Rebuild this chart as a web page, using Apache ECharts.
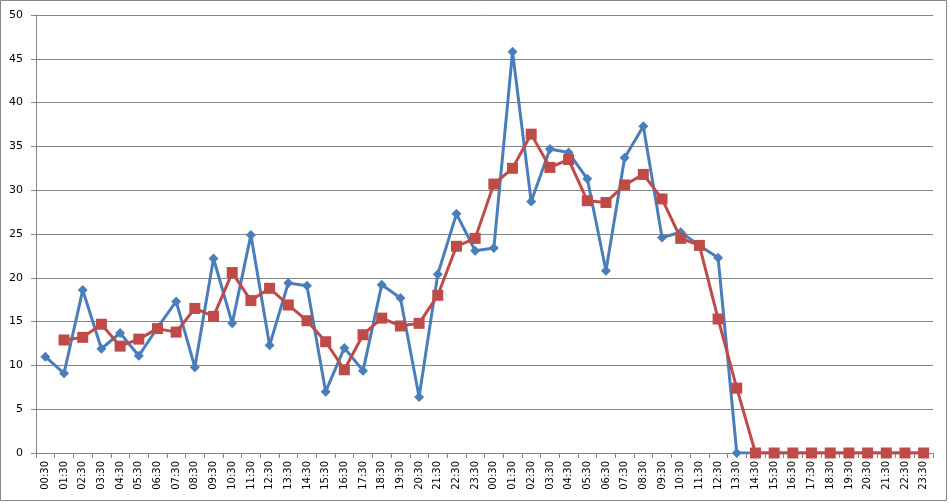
<!DOCTYPE html>
<html>
<head>
<meta charset="utf-8">
<script src="https://cdn.jsdelivr.net/npm/echarts@6/dist/echarts.min.js"></script>
<style>
  html, body { margin: 0; padding: 0; background: #fff; }
  #chart { width: 949px; height: 503px; }
</style>
</head>
<body>
<div id="chart"></div>
<script>
// one day of half-hour labels, shown twice (two days on the axis)
var dayLabels = ['00:30', '01:30', '02:30', '03:30', '04:30', '05:30', '06:30', '07:30',
    '08:30', '09:30', '10:30', '11:30', '12:30', '13:30', '14:30', '15:30',
    '16:30', '17:30', '18:30', '19:30', '20:30', '21:30', '22:30', '23:30'];
var categories = dayLabels.concat(dayLabels);

// blue series (raw values)
var blueValues = [11.0, 9.1, 18.6, 11.9, 13.7, 11.1, 14.3, 17.3, 9.8, 22.2, 14.8, 24.9,
    12.3, 19.4, 19.1, 7.0, 12.0, 9.4, 19.2, 17.7, 6.4, 20.4, 27.3, 23.1,
    23.4, 45.8, 28.7, 34.7, 34.3, 31.3, 20.8, 33.7, 37.3, 24.6, 25.2, 23.7,
    22.3, 0, 0, 0, 0, 0, 0, 0, 0, 0, 0, 0];

// red series (smoothed), starts at the second point
var redValues = ['-', 12.9, 13.2, 14.7, 12.2, 13.0, 14.2, 13.8, 16.5, 15.6, 20.6, 17.4,
    18.8, 16.9, 15.1, 12.7, 9.5, 13.5, 15.4, 14.5, 14.8, 18.0, 23.6, 24.5,
    30.7, 32.5, 36.4, 32.6, 33.5, 28.8, 28.6, 30.6, 31.8, 29.0, 24.5, 23.7,
    15.3, 7.4, 0, 0, 0, 0, 0, 0, 0, 0, 0, 0];

var gridColor = '#868686';

var myChart = echarts.init(document.getElementById('chart'));
var option = {
    animation: false,
    backgroundColor: '#fff',
    textStyle: { fontFamily: 'DejaVu Sans' },
    graphic: [{
        type: 'rect',
        shape: { x: 0.5, y: 0.5, width: 946, height: 500 },
        style: { fill: 'none', stroke: gridColor, lineWidth: 1 },
        silent: true
    }],
    grid: { left: 36, right: 16, top: 15, bottom: 50 },
    xAxis: {
        type: 'category',
        data: categories,
        boundaryGap: true,
        axisLine: { lineStyle: { color: gridColor, width: 1 } },
        axisTick: { show: true, interval: 0, length: 5, lineStyle: { color: gridColor } },
        axisLabel: {
            interval: 0,
            rotate: 90,
            margin: 8,
            color: '#000',
            fontSize: 10,
            fontFamily: 'DejaVu Sans'
        },
        splitLine: { show: false }
    },
    yAxis: {
        type: 'value',
        min: 0,
        max: 50,
        interval: 5,
        axisLine: { show: true, lineStyle: { color: gridColor, width: 1 } },
        axisTick: { show: true, length: 5, lineStyle: { color: gridColor } },
        axisLabel: { color: '#000', fontSize: 11, margin: 13, fontFamily: 'DejaVu Sans' },
        splitLine: { show: true, lineStyle: { color: gridColor, width: 1 } }
    },
    series: [
        {
            name: 'blue',
            type: 'line',
            data: blueValues,
            symbol: 'diamond',
            symbolSize: 10,
            showAllSymbol: true,
            lineStyle: { color: '#4A7EBB', width: 3 },
            itemStyle: { color: '#4A7EBB' },
            z: 2
        },
        {
            name: 'red',
            type: 'line',
            data: redValues,
            symbol: 'rect',
            symbolSize: 11,
            showAllSymbol: true,
            lineStyle: { color: '#BE4B48', width: 3 },
            itemStyle: { color: '#BE4B48' },
            z: 3
        }
    ]
};
myChart.setOption(option);
</script>
</body>
</html>
